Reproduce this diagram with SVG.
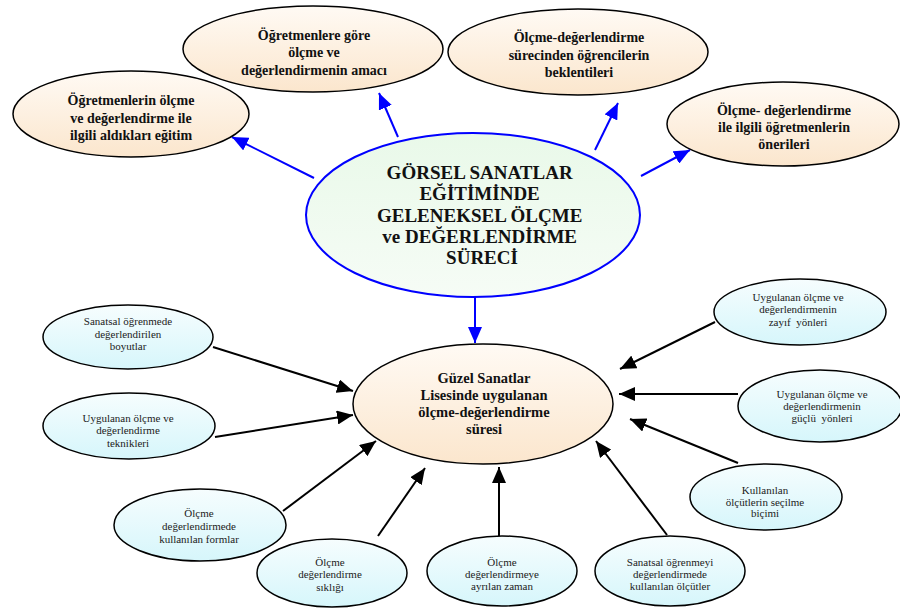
<svg xmlns="http://www.w3.org/2000/svg" width="900" height="610" viewBox="0 0 900 610">
  <defs>
    <linearGradient id="peach" x1="0" y1="0" x2="0" y2="1">
      <stop offset="0" stop-color="#fffaf4"/>
      <stop offset="1" stop-color="#fbe6cd"/>
    </linearGradient>
    <linearGradient id="mint" x1="0" y1="0" x2="0" y2="1">
      <stop offset="0" stop-color="#e9f9e9"/>
      <stop offset="1" stop-color="#f6fcf6"/>
    </linearGradient>
    <linearGradient id="aqua" x1="0" y1="0" x2="0" y2="1">
      <stop offset="0" stop-color="#f6fdfe"/>
      <stop offset="1" stop-color="#d6f6fb"/>
    </linearGradient>
    <marker id="headBlue" markerUnits="userSpaceOnUse" markerWidth="17" markerHeight="14" refX="16" refY="7" orient="auto">
      <path d="M0,0 L16,7 L0,14 z" fill="#0000ff"/>
    </marker>
    <marker id="headBlack" markerUnits="userSpaceOnUse" markerWidth="17" markerHeight="14" refX="16" refY="7" orient="auto">
      <path d="M0,0 L16,7 L0,14 z" fill="#000"/>
    </marker>
  </defs>
  <style>
    .top ellipse { fill: url(#peach); stroke: #000; stroke-width: 1.5; }
    .leaf ellipse { fill: url(#aqua); stroke: #000; stroke-width: 1.5; }
    .topText { font-weight: bold; fill: #111; text-anchor: middle; }
    .leafText { fill: #222; text-anchor: middle; }
    .blue { stroke: #0000ff; stroke-width: 2; fill: none; marker-end: url(#headBlue); }
    .black { stroke: #000; stroke-width: 2; fill: none; marker-end: url(#headBlack); }
  </style>
  <rect width="900" height="610" fill="#fff"/>

  <!-- connectors -->
  <g id="connectors">
    <line class="blue" x1="314" y1="178" x2="232" y2="137"/>
    <line class="blue" x1="398" y1="137" x2="379" y2="93"/>
    <line class="blue" x1="595" y1="150" x2="618" y2="103"/>
    <line class="blue" x1="641" y1="176" x2="690" y2="150"/>
    <line class="blue" x1="475" y1="297" x2="475" y2="343"/>

    <line class="black" x1="213" y1="347" x2="353" y2="391"/>
    <line class="black" x1="215" y1="437" x2="353" y2="415"/>
    <line class="black" x1="283" y1="511" x2="376" y2="441"/>
    <line class="black" x1="378" y1="536" x2="425" y2="468"/>
    <line class="black" x1="499" y1="536" x2="499" y2="467"/>
    <line class="black" x1="667" y1="535" x2="596" y2="441"/>
    <line class="black" x1="738" y1="463" x2="630" y2="419"/>
    <line class="black" x1="738" y1="394" x2="619" y2="394"/>
    <line class="black" x1="715" y1="322" x2="620" y2="369"/>
  </g>

  <!-- central process -->
  <g id="center">
    <ellipse cx="473" cy="215" rx="167" ry="82" fill="url(#mint)" stroke="#0000ff" stroke-width="2"/>
    <text font-family="'Liberation Serif', 'Times New Roman', serif" font-weight="bold" font-size="19" fill="#111" text-anchor="middle">
      <tspan x="482" y="179">GÖRSEL SANATLAR</tspan>
      <tspan x="482" y="200">EĞİTİMİNDE</tspan>
      <tspan x="482" y="222">GELENEKSEL ÖLÇME</tspan>
      <tspan x="482" y="243">ve DEĞERLENDİRME</tspan>
      <tspan x="482" y="264">SÜRECİ</tspan>
    </text>
  </g>

  <!-- upper outcomes -->
  <g id="training" class="top">
    <ellipse cx="131" cy="114" rx="118" ry="43"/>
    <text class="topText" font-family="'Liberation Serif', 'Times New Roman', serif" font-size="14"><tspan x="131" y="105">Öğretmenlerin ölçme</tspan><tspan x="131" y="123">ve değerlendirme ile</tspan><tspan x="131" y="140">ilgili aldıkları eğitim</tspan></text>
  </g>
  <g id="purpose" class="top">
    <ellipse cx="313" cy="49" rx="130" ry="43"/>
    <text class="topText" font-family="'Liberation Serif', 'Times New Roman', serif" font-size="14"><tspan x="314" y="40">Öğretmenlere göre</tspan><tspan x="314" y="57">ölçme ve</tspan><tspan x="314" y="75">değerlendirmenin amacı</tspan></text>
  </g>
  <g id="expectations" class="top">
    <ellipse cx="578" cy="52" rx="130" ry="43"/>
    <text class="topText" font-family="'Liberation Serif', 'Times New Roman', serif" font-size="14"><tspan x="579" y="42">Ölçme-değerlendirme</tspan><tspan x="579" y="60">sürecinden öğrencilerin</tspan><tspan x="579" y="77">beklentileri</tspan></text>
  </g>
  <g id="suggestions" class="top">
    <ellipse cx="783" cy="124" rx="116" ry="42"/>
    <text class="topText" font-family="'Liberation Serif', 'Times New Roman', serif" font-size="14"><tspan x="784" y="115">Ölçme- değerlendirme</tspan><tspan x="784" y="132">ile ilgili öğretmenlerin</tspan><tspan x="784" y="149">önerileri</tspan></text>
  </g>

  <!-- assessment duration hub -->
  <g id="duration" class="top">
    <ellipse cx="483" cy="404" rx="130" ry="60"/>
    <text class="topText" font-family="'Liberation Serif', 'Times New Roman', serif" font-size="14.5"><tspan x="484" y="383">Güzel Sanatlar</tspan><tspan x="484" y="400">Lisesinde uygulanan</tspan><tspan x="484" y="417">ölçme-değerlendirme</tspan><tspan x="484" y="434">süresi</tspan></text>
  </g>

  <!-- contributing factors -->
  <g id="dimensions" class="leaf">
    <ellipse cx="128" cy="337" rx="85" ry="32"/>
    <text class="leafText" font-family="'Liberation Serif', 'Times New Roman', serif" font-size="11"><tspan x="128" y="325">Sanatsal öğrenmede</tspan><tspan x="128" y="338">değerlendirilen</tspan><tspan x="128" y="350">boyutlar</tspan></text>
  </g>
  <g id="techniques" class="leaf">
    <ellipse cx="129" cy="426" rx="86" ry="33"/>
    <text class="leafText" font-family="'Liberation Serif', 'Times New Roman', serif" font-size="11"><tspan x="128" y="422">Uygulanan ölçme ve</tspan><tspan x="128" y="434">değerlendirme</tspan><tspan x="128" y="447">teknikleri</tspan></text>
  </g>
  <g id="forms" class="leaf">
    <ellipse cx="200" cy="525" rx="86" ry="36"/>
    <text class="leafText" font-family="'Liberation Serif', 'Times New Roman', serif" font-size="11"><tspan x="199" y="517">Ölçme</tspan><tspan x="199" y="530">değerlendirmede</tspan><tspan x="199" y="543">kullanılan formlar</tspan></text>
  </g>
  <g id="frequency" class="leaf">
    <ellipse cx="332" cy="573" rx="75" ry="34"/>
    <text class="leafText" font-family="'Liberation Serif', 'Times New Roman', serif" font-size="11"><tspan x="330" y="566">Ölçme</tspan><tspan x="330" y="578">değerlendirme</tspan><tspan x="330" y="591">sıklığı</tspan></text>
  </g>
  <g id="time" class="leaf">
    <ellipse cx="502" cy="571" rx="75" ry="35"/>
    <text class="leafText" font-family="'Liberation Serif', 'Times New Roman', serif" font-size="11"><tspan x="502" y="566">Ölçme</tspan><tspan x="502" y="578">değerlendirmeye</tspan><tspan x="502" y="590">ayrılan zaman</tspan></text>
  </g>
  <g id="criteria" class="leaf">
    <ellipse cx="670" cy="571" rx="75" ry="35"/>
    <text class="leafText" font-family="'Liberation Serif', 'Times New Roman', serif" font-size="11"><tspan x="670" y="566">Sanatsal öğrenmeyi</tspan><tspan x="670" y="578">değerlendirmede</tspan><tspan x="670" y="590">kullanılan ölçütler</tspan></text>
  </g>
  <g id="selection" class="leaf">
    <ellipse cx="766" cy="497" rx="76" ry="33"/>
    <text class="leafText" font-family="'Liberation Serif', 'Times New Roman', serif" font-size="11"><tspan x="765" y="494">Kullanılan</tspan><tspan x="765" y="506">ölçütlerin seçilme</tspan><tspan x="765" y="517">biçimi</tspan></text>
  </g>
  <g id="strengths" class="leaf">
    <ellipse cx="820" cy="406" rx="82" ry="36"/>
    <text class="leafText" font-family="'Liberation Serif', 'Times New Roman', serif" font-size="11" xml:space="preserve"><tspan x="822" y="398">Uygulanan ölçme ve</tspan><tspan x="822" y="410">değerlendirmenin</tspan><tspan x="822" y="422">güçlü  yönleri</tspan></text>
  </g>
  <g id="weaknesses" class="leaf">
    <ellipse cx="800" cy="312" rx="86" ry="33"/>
    <text class="leafText" font-family="'Liberation Serif', 'Times New Roman', serif" font-size="11" xml:space="preserve"><tspan x="798" y="301">Uygulanan ölçme ve</tspan><tspan x="798" y="313">değerlendirmenin</tspan><tspan x="798" y="326">zayıf  yönleri</tspan></text>
  </g>
</svg>
